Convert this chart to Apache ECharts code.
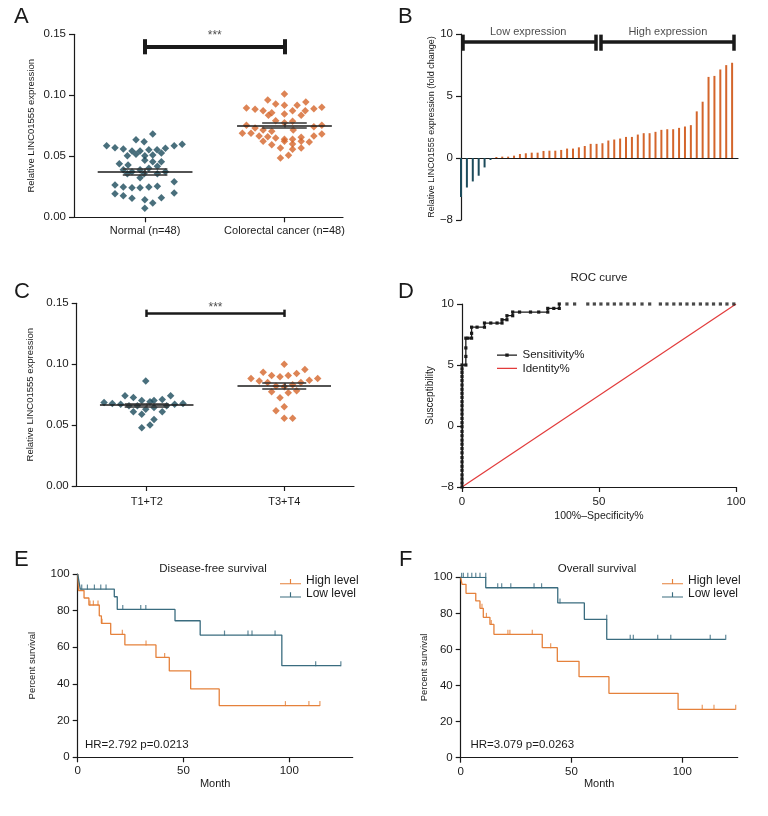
<!DOCTYPE html>
<html><head><meta charset="utf-8">
<script src="https://cdn.jsdelivr.net/npm/echarts@6/dist/echarts.min.js"></script>
<style>html,body{margin:0;padding:0;background:#fff}#c{width:768px;height:816px}</style>
</head><body><div id="c"></div>
<script>
const FONT = "'Liberation Sans', Arial, sans-serif";
const INK = '#1a1a1a';
const TEAL = '#1c4b5b', ORANGE = '#d4652b';
const KM_TEAL = '#3a6c7f', KM_ORANGE = '#e5813b';
const RED = '#e23b3b';

// ---------- Panel A : scatter (jitter offset, value) ----------
const aCategories = ['Normal (n=48)', 'Colorectal cancer (n=48)'];
const aNormal = [
 [-0.276,0.0587],[-0.216,0.0570],[-0.156,0.0560],[-0.094,0.0543],[-0.036,0.0543],[0.027,0.0554],[0.086,0.0554],[0.146,0.0566],[0.209,0.0587],[0.266,0.0598],
 [0.055,0.0683],[-0.065,0.0636],[-0.007,0.0620],
 [-0.127,0.0505],[-0.065,0.0516],[-0.002,0.0505],[0.055,0.0511],[0.117,0.0527],
 [-0.185,0.0439],[-0.122,0.0429],[-0.002,0.0467],[0.055,0.0456],[0.117,0.0456],
 [-0.156,0.0390],[-0.094,0.0374],[-0.036,0.0390],[0.027,0.0402],[0.088,0.0418],
 [-0.127,0.0357],[-0.007,0.0357],[0.088,0.0357],[0.146,0.0374],[-0.036,0.0325],
 [-0.216,0.0265],[-0.156,0.0248],[-0.094,0.0243],[-0.036,0.0243],[0.027,0.0248],[0.088,0.0254],[0.209,0.0292],
 [-0.216,0.0193],[-0.156,0.0177],[-0.094,0.0156],[-0.002,0.0144],[0.055,0.0117],[0.117,0.0161],[0.209,0.0199],
 [-0.002,0.0074]
];
const aCancer = [
 [0,0.1011],[-0.120,0.0961],[-0.063,0.0929],[0,0.0918],[0.091,0.0918],[0.153,0.0945],
 [-0.273,0.0896],[-0.211,0.0885],[-0.153,0.0874],[-0.091,0.0857],[-0.115,0.0836],[0,0.0847],[0.058,0.0874],[0.120,0.0836],[0.149,0.0874],[0.211,0.0890],[0.268,0.0902],
 [-0.063,0.0792],[0,0.0775],[0.058,0.0787],
 [-0.273,0.0754],[-0.211,0.0732],[-0.153,0.0716],[-0.091,0.0705],[0.063,0.0716],[0.211,0.0743],[0.268,0.0754],
 [-0.302,0.0689],[-0.240,0.0689],[-0.182,0.0666],[-0.120,0.0661],[-0.063,0.0650],[0,0.0639],[0.058,0.0639],[0.120,0.0656],[0.211,0.0666],[0.268,0.0683],
 [-0.153,0.0623],[-0.091,0.0595],[0,0.0623],[0.058,0.0601],[0.120,0.0623],[0.178,0.0617],
 [-0.029,0.0568],[0.058,0.0557],[0.120,0.0568],
 [-0.029,0.0486],[0.029,0.0508]
];
const aMeans = [0.0375, 0.0754];
const aSems = [0.0025, 0.0017];
const aYTicks = [0, 0.05, 0.10, 0.15];
const aSig = {y: 0.1398, capLow: 0.1336, capHigh: 0.146, labelY: 0.1485, label: '***'};

// ---------- Panel B : waterfall bars ----------
const bValues = [-3.14,-2.38,-1.89,-1.43,-0.76,-0.16,
 0.08,0.11,0.11,0.19,0.32,0.38,0.43,0.43,0.57,0.59,
 0.59,0.65,0.76,0.76,0.86,0.97,1.14,1.14,1.19,1.41,
 1.49,1.57,1.70,1.70,1.89,2.00,2.00,2.11,2.27,2.32,
 2.32,2.43,2.54,2.65,3.76,4.54,6.54,6.62,7.14,7.49,7.68];
const bYTickValues = [-5, 0, 5, 10];
const bYTickLabels = ['\u22128', '0', '5', '10'];
const bBrackets = [
 {label: 'Low expression', x1: 0.34, x2: 22.9, y: 9.35, labelX: 11.4},
 {label: 'High expression', x1: 23.7, x2: 46.2, y: 9.35, labelX: 35.1}
];
const bCap = [8.65, 9.95];
const bLabelY = 10.2;

// ---------- Panel C ----------
const cCategories = ['T1+T2', 'T3+T4'];
const cLow = [
 [-0.007,0.0863],[-0.310,0.0686],[-0.250,0.0678],[-0.189,0.0672],[-0.158,0.0740],[-0.097,0.0727],[-0.036,0.0702],[0.024,0.0691],[0.053,0.0702],[0.113,0.0710],[0.174,0.0740],[0.203,0.0672],[0.264,0.0678],
 [-0.129,0.0658],[-0.068,0.0658],[-0.007,0.0631],[0.053,0.0645],[0.145,0.0658],
 [-0.097,0.0609],[-0.036,0.0590],[0.113,0.0609],[0.053,0.0547],[0.024,0.0500],[-0.036,0.0478]
];
const cHigh = [
 [0,0.1000],[-0.153,0.0934],[-0.242,0.0883],[-0.182,0.0863],[-0.092,0.0907],[-0.031,0.0896],[0.029,0.0907],[0.090,0.0924],[0.150,0.0956],[0.182,0.0869],[0.243,0.0883],
 [-0.121,0.0850],[-0.060,0.0822],[0,0.0814],[0.061,0.0831],[0.121,0.0850],
 [-0.092,0.0773],[0.090,0.0781],[0.029,0.0765],[-0.031,0.0724],
 [0,0.0650],[-0.060,0.0617],[0,0.0557],[0.061,0.0557]
];
const cMeans = [0.0664, 0.0820];
const cSems = [0.0013, 0.0025];
const cSig = {y: 0.1418, capLow: 0.1388, capHigh: 0.1448, labelY: 0.1462, label: '***'};

// ---------- Panel D : ROC ----------
const dYTickValues = [-5, 0, 5, 10];
const dYTickLabels = ['\u22128', '0', '5', '10'];
const rocVerticalY = [-5.0,-4.67,-4.34,-4.01,-3.63,-3.30,-2.94,-2.59,-2.20,-1.85,-1.49,-1.16,-0.80,-0.45,-0.06,0.27,0.62,0.98,1.31,1.66,1.99,2.35,2.68,3.01,3.36,3.72,4.05,4.38,4.68];
const rocSteps = [[0,5.0],[1.4,5.0],[1.4,5.7],[1.4,6.4],[1.4,7.2],[2.2,7.2],[3.5,7.2],[3.5,7.6],[3.5,8.1],[5.5,8.1],[8.2,8.1],[8.2,8.44],[10.5,8.44],[12.8,8.44],[14.6,8.44],[14.6,8.71],[16.4,8.71],[16.4,9.04],[18.5,9.04],[18.5,9.34],[21,9.34],[25,9.34],[28,9.34],[31.3,9.34],[31.3,9.64],[33.5,9.64],[35.5,9.64],[35.5,10]];
const rocTailX = [38.3,41.1,45.9,48.3,50.7,53.2,55.6,58.0,60.5,62.9,65.7,68.5,72.4,74.8,77.3,79.7,82.1,84.5,87.0,89.4,91.8,94.3,96.7,99.2];
const rocTailY = 10;
const identityLine = [[0,-5],[100,10]];

// ---------- Panel E : disease-free survival ----------
const eHighSteps = [[0,100],[0.4,91],[3.0,86.9],[5.3,83.1],[10.2,77.2],[11.2,73.1],[15.6,67.1],[22.3,61.3],[37,54.5],[43.3,47.1],[53.4,37.3],[66.9,28.2],[114.5,28.2]];
const eHighCensor = [[5.8,83.1],[7.4,83.1],[9.6,83.1],[11.5,73.1],[21.1,67.1],[32.3,61.3],[41.1,54.5],[98.2,28.2],[109.3,28.2],[114.5,28.2]];
const eLowSteps = [[0,100],[0.6,95.8],[1.2,91.8],[17.3,87.6],[18.7,80.7],[46,74.5],[57.9,66.7],[96.5,50],[124.4,50]];
const eLowCensor = [[1.9,91.8],[4.6,91.8],[7.9,91.8],[10.9,91.8],[13.4,91.8],[21.3,80.7],[29.8,80.7],[32.2,80.7],[69.4,66.7],[80.5,66.7],[82.4,66.7],[93.3,66.7],[112.5,50],[124.4,50]];

// ---------- Panel F : overall survival ----------
const fHighSteps = [[0,100],[0.6,96.1],[2.4,91.1],[6.8,86.9],[8.7,82.8],[10.2,77.8],[13.2,73.9],[15.0,68.4],[36.8,61.0],[43.6,53.4],[53.4,44.9],[66.9,35.7],[98.1,26.8],[124.1,26.8]];
const fHighCensor = [[9.6,82.8],[11.6,77.8],[13.8,73.9],[21.3,68.4],[22.2,68.4],[32.3,68.4],[40.6,61.0],[109,26.8],[114.3,26.8],[124.1,26.8]];
const fLowSteps = [[0,100],[11.3,94.2],[43.8,85.8],[55.8,76.7],[65.9,65.6],[119.6,65.6]];
const fLowCensor = [[0.4,100],[1.2,100],[3.2,100],[5.0,100],[6.8,100],[8.7,100],[11.3,100],[16.7,94.2],[18.5,94.2],[22.6,94.2],[33.1,94.2],[36.5,94.2],[44.8,85.8],[65.9,76.7],[76.5,65.6],[77.9,65.6],[88.9,65.6],[94.8,65.6],[112.6,65.6],[119.6,65.6]];
const kmXTicks = [0, 50, 100];

// ================= build =================
const TICK_SIZE = 11.5;
function mkAxis(o){
  const a = {
    type:'value', gridIndex:o.grid, min:o.min, max:o.max,
    axisLine:{show:true,onZero:!!o.onZero,lineStyle:{color:INK,width:1.2}},
    axisTick:{show:o.tick!==false,length:5,lineStyle:{color:INK,width:1.2}},
    axisLabel:{show:o.label!==false,color:INK,fontSize:o.fontSize||TICK_SIZE,fontFamily:FONT,margin:o.margin||8},
    splitLine:{show:false}
  };
  if(o.interval!=null) a.interval=o.interval;
  if(o.ticks){ a.axisTick.customValues=o.ticks; a.axisLabel.customValues=o.ticks; }
  if(o.formatter) a.axisLabel.formatter=o.formatter;
  if(o.name){ a.name=o.name; a.nameLocation='middle'; a.nameGap=o.nameGap; a.nameTextStyle={color:INK,fontFamily:FONT,fontSize:o.nameSize||10}; }
  return a;
}
function segs(list){ return list.map(c=>({coords:c})); }
function linesSeries(ai, list, width, color){
  return {type:'lines', coordinateSystem:'cartesian2d', xAxisIndex:ai, yAxisIndex:ai, polyline:false, clip:false, silent:true, z:4,
    data:segs(list), lineStyle:{color:color||INK, width:width, opacity:1, curveness:0}, effect:{show:false}};
}
function textSeries(ai, x, y, text, size){
  return {type:'scatter', xAxisIndex:ai, yAxisIndex:ai, data:[[x,y]], symbolSize:1, clip:false, silent:true, z:6,
    itemStyle:{color:'rgba(0,0,0,0)'},
    label:{show:true, position:'inside', formatter:text, color:INK, fontSize:size, fontFamily:FONT}};
}
function dotSeries(ai, pts, center, color, size){
  return {type:'scatter', xAxisIndex:ai, yAxisIndex:ai, symbol:'diamond', symbolSize:size, z:3,
    data:pts.map(p=>[center+p[0], p[1]]), itemStyle:{color:color}};
}
function meanSem(ai, means, sems, halfMean, halfCap){
  const meanSegs=[], semSegs=[];
  means.forEach((m,i)=>{
    const g=i+1, s=sems[i];
    meanSegs.push([[g-halfMean,m],[g+halfMean,m]]);
    semSegs.push([[g,m-s],[g,m+s]]);
    semSegs.push([[g-halfCap,m+s],[g+halfCap,m+s]]);
    semSegs.push([[g-halfCap,m-s],[g+halfCap,m-s]]);
  });
  return [linesSeries(ai, meanSegs, 1.5, INK), linesSeries(ai, semSegs, 1.5, '#333')];
}
function sigBar(ai, sig, width){
  return [linesSeries(ai, [[[1,sig.y],[2,sig.y]],[[1,sig.capLow],[1,sig.capHigh]],[[2,sig.capLow],[2,sig.capHigh]]], width, INK),
          textSeries(ai, 1.5, sig.labelY, sig.label, 12)];
}
function kmSeries(ai, name, steps, censor, color){
  return [
    {type:'line', name:name, xAxisIndex:ai, yAxisIndex:ai, step:'end', data:steps, symbol:'none', showSymbol:false,
     lineStyle:{color:color,width:1.3}, itemStyle:{color:color}, z:3},
    {type:'scatter', name:name+' censored', xAxisIndex:ai, yAxisIndex:ai, data:censor, symbol:'rect',
     symbolSize:[1.2,5], symbolOffset:[0,-2], itemStyle:{color:color}, z:4}
  ];
}

const grids = [
  {left:74, top:34.3, width:269, height:183},
  {left:461, top:34, width:277, height:186},
  {left:76.7, top:303.3, width:277.3, height:182.7},
  {left:462, top:304, width:274, height:183},
  {left:77.7, top:574, width:275, height:183.3},
  {left:460.7, top:577.3, width:277, height:180.4}
].map(g=>Object.assign({outerBoundsMode:'none', containLabel:false}, g));

const xAxes = [
  mkAxis({grid:0, min:0.49, max:2.42, ticks:[1,2], fontSize:11, formatter:v=>aCategories[Math.round(v)-1]}),
  mkAxis({grid:1, min:0, max:47, tick:false, label:false, onZero:true}),
  mkAxis({grid:2, min:0.491, max:2.507, ticks:[1,2], fontSize:11, margin:10, formatter:v=>cCategories[Math.round(v)-1]}),
  mkAxis({grid:3, min:0, max:100, ticks:[0,50,100], margin:9, name:'100%\u2013Specificity%', nameGap:24, nameSize:10.5}),
  mkAxis({grid:4, min:0, max:130, ticks:kmXTicks, name:'Month', nameGap:20, nameSize:11}),
  mkAxis({grid:5, min:0, max:125, ticks:kmXTicks, name:'Month', nameGap:20, nameSize:11})
];
const yAxes = [
  mkAxis({grid:0, min:0, max:0.15, ticks:aYTicks, formatter:v=>v.toFixed(2), name:'Relative LINC01555 expression', nameGap:38, nameSize:9.5}),
  mkAxis({grid:1, min:-5, max:10, ticks:bYTickValues, formatter:v=>bYTickLabels[bYTickValues.indexOf(v)], name:'Relative LINC01555 expression (fold change)', nameGap:25, nameSize:9}),
  mkAxis({grid:2, min:0, max:0.15, ticks:aYTicks, formatter:v=>v.toFixed(2), name:'Relative LINC01555 expression', nameGap:41, nameSize:9.5}),
  mkAxis({grid:3, min:-5, max:10, ticks:dYTickValues, formatter:v=>dYTickLabels[dYTickValues.indexOf(v)], name:'Susceptibility', nameGap:27, nameSize:10}),
  mkAxis({grid:4, min:0, max:100, interval:20, name:'Percent survival', nameGap:40, nameSize:9.5}),
  mkAxis({grid:5, min:0, max:100, interval:20, name:'Percent survival', nameGap:25, nameSize:9.5})
];

const series = [];
// A
series.push(dotSeries(0, aNormal, 1, TEAL, 7.5));
series.push(dotSeries(0, aCancer, 2, ORANGE, 7.5));
series.push(...meanSem(0, aMeans, aSems, 0.34, 0.16));
series.push(...sigBar(0, aSig, 4));
// B
series.push({type:'bar', xAxisIndex:1, yAxisIndex:1, barWidth:2, z:3,
  data:bValues.map((v,i)=>({value:[i,v], itemStyle:{color: v<0?TEAL:ORANGE}}))});
const bSegs = [];
bBrackets.forEach(b=>{
  bSegs.push([[b.x1,b.y],[b.x2,b.y]]);
  bSegs.push([[b.x1,bCap[0]],[b.x1,bCap[1]]]);
  bSegs.push([[b.x2,bCap[0]],[b.x2,bCap[1]]]);
  series.push(textSeries(1, b.labelX, bLabelY, b.label, 11));
});
series.push(linesSeries(1, bSegs, 3.5, INK));
// C
series.push(dotSeries(2, cLow, 1, TEAL, 7.5));
series.push(dotSeries(2, cHigh, 2, ORANGE, 7.5));
series.push(...meanSem(2, cMeans, cSems, 0.34, 0.16));
series.push(...sigBar(2, cSig, 2.5));
// D
series.push({type:'line', name:'Identity%', xAxisIndex:3, yAxisIndex:3, data:identityLine, symbol:'none',
  lineStyle:{color:RED, width:1.2}, itemStyle:{color:RED}, z:3});
series.push({type:'line', name:'Sensitivity%', xAxisIndex:3, yAxisIndex:3,
  data: rocVerticalY.map(y=>[0,y]).concat(rocSteps), symbol:'rect', symbolSize:3.2, showSymbol:true,
  lineStyle:{color:INK, width:1.3}, itemStyle:{color:INK}, z:4, clip:false});
series.push({type:'scatter', name:'rocTail', xAxisIndex:3, yAxisIndex:3, data: rocTailX.map(x=>[x,rocTailY]),
  symbol:'rect', symbolSize:3.2, itemStyle:{color:INK}, z:4, clip:false});
// E, F
series.push(...kmSeries(4, 'High level', eHighSteps, eHighCensor, KM_ORANGE));
series.push(...kmSeries(4, 'Low level', eLowSteps, eLowCensor, KM_TEAL));
series.push(...kmSeries(5, 'High level', fHighSteps, fHighCensor, KM_ORANGE));
series.push(...kmSeries(5, 'Low level', fLowSteps, fLowCensor, KM_TEAL));

const ICON_KM = 'path://M0,0h0.01v0.01z M0,6.6H22V7.8H0Z M10.4,2.2H11.6V7H10.4Z M21.99,8h0.01v-0.01z';
const ICON_ROC = 'path://M0,0h0.01v0.01z M0,3.4H20V4.6H0Z M8.3,2.3H11.7V5.7H8.3Z M19.99,8h0.01v-0.01z';
const ICON_LINE = 'path://M0,0h0.01v0.01z M0,3.4H20V4.6H0Z M19.99,8h0.01v-0.01z';
function legendAt(left, top, items, size){
  return {left:left, top:top, orient:'vertical', itemWidth:21, itemHeight:8, itemGap:0, padding:0, selectedMode:false,
    data:items, textStyle:{color:INK, fontFamily:FONT, fontSize:size, lineHeight:13.3}};
}
const legends = [
  legendAt(497, 348.5, [{name:'Sensitivity%', icon:ICON_ROC},{name:'Identity%', icon:ICON_LINE}], 11.5),
  legendAt(280, 574, [{name:'High level', icon:ICON_KM},{name:'Low level', icon:ICON_KM}], 12),
  legendAt(662, 574, [{name:'High level', icon:ICON_KM},{name:'Low level', icon:ICON_KM}], 12)
];

function ttl(text, left, top, size, align){
  const t = {text:text, left:left, top:top, padding:0, textStyle:{color:INK, fontFamily:FONT, fontSize:size, fontWeight:'normal'}};
  if(align) t.textAlign = align;
  return t;
}
const titles = [
  ttl('A', 14, 6, 22), ttl('B', 398, 6, 22), ttl('C', 14, 281, 22), ttl('D', 398, 281, 22), ttl('E', 14, 549, 22), ttl('F', 399, 549, 22),
  ttl('ROC curve', 599, 272, 11.5, 'center'),
  ttl('Disease-free survival', 213, 563, 11.5, 'center'),
  ttl('Overall survival', 597, 563, 11.5, 'center'),
  ttl('HR=2.792 p=0.0213', 85, 739, 11.5),
  ttl('HR=3.079 p=0.0263', 470.5, 739, 11.5)
];

const chart = echarts.init(document.getElementById('c'), null, {renderer:'canvas'});
chart.setOption({
  animation:false, backgroundColor:'#fff',
  textStyle:{fontFamily:FONT},
  title:titles, legend:legends, grid:grids, xAxis:xAxes, yAxis:yAxes, series:series
});
</script></body></html>
